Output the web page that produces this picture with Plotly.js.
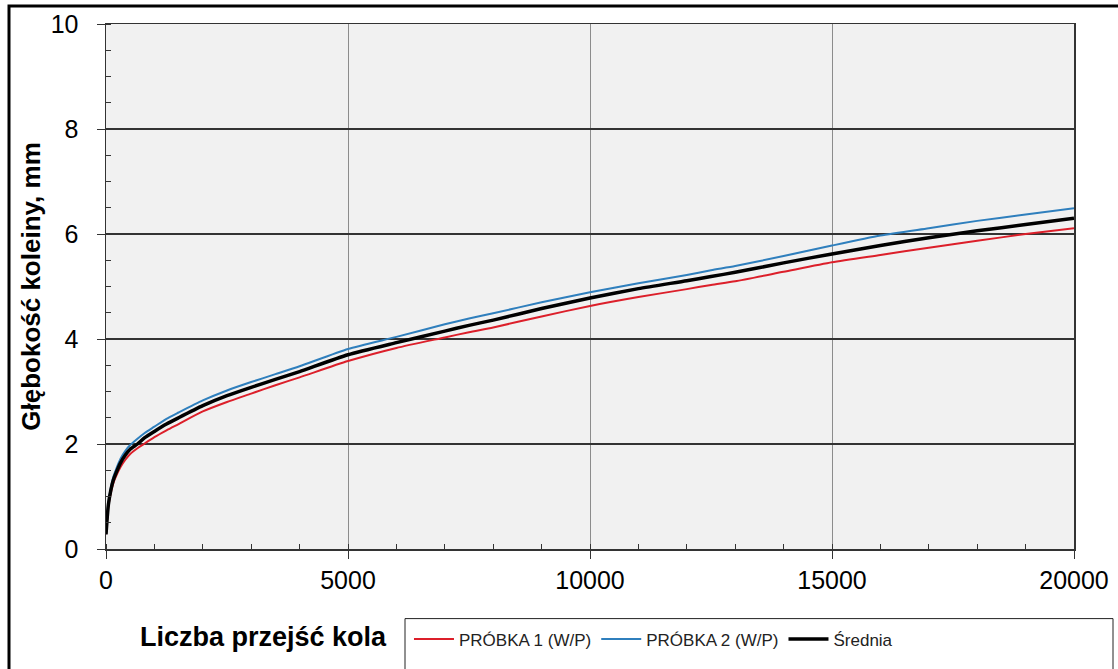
<!DOCTYPE html>
<html>
<head>
<meta charset="utf-8">
<script src="https://cdn.plot.ly/plotly-3.0.1.min.js"></script>
<style>
  html, body { margin: 0; padding: 0; background: #ffffff; }
  #chart { width: 1118px; height: 669px; }
</style>
</head>
<body>
<div id="chart"></div>
<script>
// Number of wheel passes
const passes = [0, 25, 50, 100, 150, 200, 300, 400, 500, 650, 800, 1000, 1250, 1500, 2000, 2500, 3000, 3500, 4000, 5000, 6000, 7000, 7500, 8000, 9000, 10000, 11000, 12000, 12500, 13000, 14000, 15000, 16000, 17000, 18000, 19000, 20000];

// Rut depth, mm
const probka1 = [0.28, 0.58, 0.82, 1.07, 1.25, 1.37, 1.56, 1.70, 1.81, 1.92, 2.01, 2.13, 2.26, 2.38, 2.62, 2.80, 2.96, 3.12, 3.27, 3.58, 3.83, 4.03, 4.13, 4.22, 4.43, 4.63, 4.80, 4.95, 5.03, 5.10, 5.28, 5.46, 5.60, 5.74, 5.87, 6.00, 6.11];
const probka2 = [0.28, 0.62, 0.88, 1.17, 1.37, 1.50, 1.72, 1.87, 1.98, 2.10, 2.21, 2.33, 2.48, 2.60, 2.83, 3.02, 3.18, 3.33, 3.48, 3.81, 4.04, 4.28, 4.39, 4.49, 4.70, 4.89, 5.06, 5.22, 5.31, 5.39, 5.58, 5.78, 5.97, 6.11, 6.25, 6.37, 6.49];
const srednia = [0.28, 0.60, 0.85, 1.12, 1.31, 1.43, 1.64, 1.79, 1.90, 2.00, 2.12, 2.24, 2.38, 2.50, 2.73, 2.92, 3.08, 3.23, 3.38, 3.70, 3.93, 4.15, 4.26, 4.36, 4.58, 4.78, 4.96, 5.11, 5.19, 5.27, 5.45, 5.62, 5.78, 5.93, 6.06, 6.18, 6.30];

const seriesNames = ['PRÓBKA 1 (W/P)', 'PRÓBKA 2 (W/P)', 'Średnia'];
const xTitle = 'Liczba przejść kola';
const yTitle = 'Głębokość koleiny, mm';
const xTicks = [0, 5000, 10000, 15000, 20000];
const yTicks = [0, 2, 4, 6, 8, 10];

const FONT = 'Arial, "Liberation Sans", sans-serif';

const traces = [
  { x: passes, y: probka1, name: seriesNames[0], type: 'scatter', mode: 'lines',
    line: { color: '#dc1f2a', width: 2, shape: 'spline', smoothing: 0.6 } },
  { x: passes, y: probka2, name: seriesNames[1], type: 'scatter', mode: 'lines',
    line: { color: '#2f7fbd', width: 2, shape: 'spline', smoothing: 0.6 } },
  { x: passes, y: srednia, name: seriesNames[2], type: 'scatter', mode: 'lines',
    line: { color: '#000000', width: 3.5, shape: 'spline', smoothing: 0.6 } }
];

const layout = {
  width: 1118, height: 669,
  margin: { l: 106, r: 44, t: 24, b: 117, pad: 0 },
  paper_bgcolor: '#ffffff',
  plot_bgcolor: '#f1f1f1',
  font: { family: FONT, color: '#000000' },
  showlegend: true,
  legend: {
    orientation: 'h',
    x: 0.313, xanchor: 'left',
    y: (552 - 643) / 528, yanchor: 'middle',
    bgcolor: 'rgba(0,0,0,0)',
    borderwidth: 0,
    font: { family: FONT, size: 17, color: '#222222' },
    itemwidth: 40,
    tracegroupgap: 0
  },
  xaxis: {
    range: [0, 20000],
    tickvals: xTicks,
    ticktext: xTicks.map(String),
    tickfont: { family: FONT, size: 25, color: '#000000' },
    ticks: 'outside', ticklen: 8, tickwidth: 1, tickcolor: '#333333',
    showline: true, linecolor: '#333333', linewidth: 1.5, mirror: true,
    showgrid: true, gridcolor: '#8c8c8c', gridwidth: 1,
    zeroline: false,
    minor: { dtick: 1000, ticks: 'inside', ticklen: 5, tickcolor: '#333333', showgrid: false },
    fixedrange: true
  },
  yaxis: {
    range: [0, 10],
    tickvals: yTicks,
    ticktext: yTicks.map(String),
    tickfont: { family: FONT, size: 25, color: '#000000' },
    ticks: 'outside', ticklen: 8, tickwidth: 1, tickcolor: '#333333',
    ticklabelstandoff: 13,
    showline: true, linecolor: '#333333', linewidth: 1.5, mirror: true,
    showgrid: true, gridcolor: '#333333', gridwidth: 1.5,
    zeroline: false,
    minor: { dtick: 0.5, ticks: 'inside', ticklen: 5, tickcolor: '#333333', showgrid: false },
    title: { text: '<b>' + yTitle + '</b>', font: { family: FONT, size: 26, color: '#000000' }, standoff: 2 },
    fixedrange: true
  },
  annotations: [
    { text: '<b>' + xTitle + '</b>', xref: 'paper', yref: 'paper',
      x: (138 - 106) / 968, y: (552 - 641) / 528, xanchor: 'left', yanchor: 'middle',
      showarrow: false, font: { family: FONT, size: 27, color: '#000000' } }
  ],
  shapes: [
    // outer chart frame
    { type: 'rect', xref: 'paper', yref: 'paper', layer: 'above',
      x0: (9 - 106) / 968, x1: 1.2, y0: -0.4, y1: (552 - 6) / 528,
      line: { color: '#000000', width: 3 }, fillcolor: 'rgba(0,0,0,0)' },
    // legend box
    { type: 'rect', xref: 'paper', yref: 'paper', layer: 'above',
      x0: (405 - 106) / 968, x1: (1113 - 106) / 968, y0: -0.4, y1: (552 - 622) / 528,
      line: { color: '#222222', width: 1 }, fillcolor: 'rgba(0,0,0,0)' }
  ]
};

Plotly.newPlot('chart', traces, layout, { displayModeBar: false, staticPlot: true });
</script>
</body>
</html>
